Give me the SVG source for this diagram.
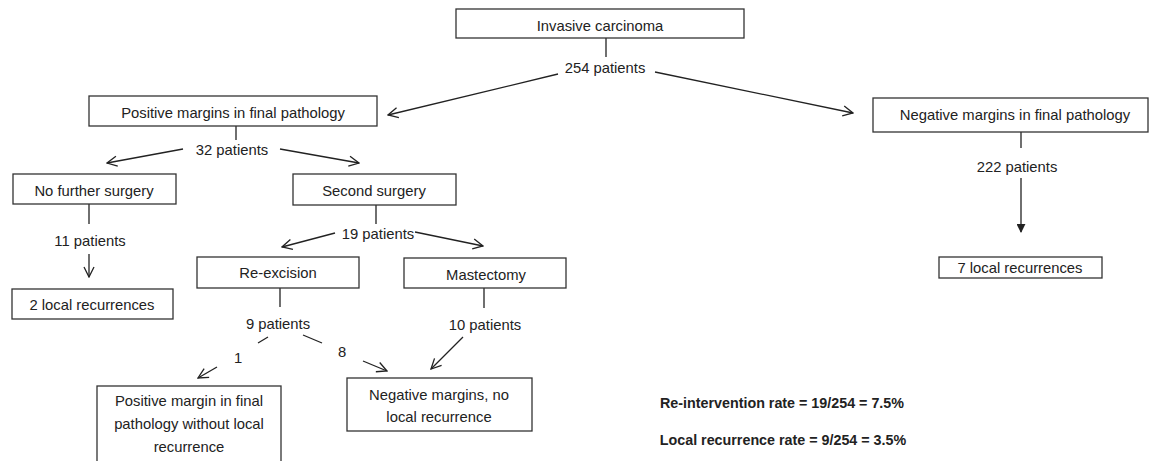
<svg xmlns="http://www.w3.org/2000/svg" width="1155" height="461" viewBox="0 0 1155 461">
<style>
.box{fill:#fff;stroke:#333;stroke-width:1.3}
.t{font-family:"Liberation Sans",Arial,sans-serif;font-size:14.8px;fill:#222;text-anchor:middle}
.b{font-family:"Liberation Sans",Arial,sans-serif;font-size:14.3px;font-weight:bold;fill:#222;text-anchor:middle}
.ln{stroke:#222;stroke-width:1.3;fill:none}
.ar{stroke:#222;stroke-width:1.3;fill:none;marker-end:url(#open)}
</style>
<defs>
<marker id="open" viewBox="0 0 12 12" refX="11" refY="6" markerWidth="12" markerHeight="12" markerUnits="userSpaceOnUse" orient="auto">
<path d="M1,1 L11,6 L1,11" fill="none" stroke="#222" stroke-width="1.3"/>
</marker>
<marker id="fill" viewBox="0 0 10 10" refX="9" refY="5" markerWidth="9" markerHeight="9" markerUnits="userSpaceOnUse" orient="auto">
<path d="M0,0 L10,5 L0,10 Z" fill="#222"/>
</marker>
</defs>
<g id="connectors">
<line class="ln" x1="606" y1="38" x2="606" y2="57"/>
<line class="ar" x1="558" y1="74" x2="388" y2="115"/>
<line class="ar" x1="655" y1="72" x2="853" y2="113"/>
<line class="ln" x1="1021" y1="132" x2="1021" y2="148"/>
<line class="ln" x1="1021" y1="178" x2="1021" y2="232" marker-end="url(#fill)"/>
<line class="ln" x1="236" y1="126" x2="236" y2="140"/>
<line class="ar" x1="183" y1="149" x2="107" y2="163"/>
<line class="ar" x1="280" y1="149" x2="359" y2="163"/>
<line class="ln" x1="89" y1="204" x2="89" y2="224"/>
<line class="ar" x1="89" y1="254" x2="89" y2="277"/>
<line class="ln" x1="376" y1="205" x2="376" y2="224"/>
<line class="ar" x1="335" y1="233" x2="282" y2="247"/>
<line class="ar" x1="415" y1="232" x2="483" y2="246"/>
<line class="ln" x1="280" y1="288" x2="280" y2="307"/>
<line class="ln" x1="484" y1="288" x2="484" y2="308"/>
<line class="ln" x1="268" y1="337" x2="258" y2="343"/>
<line class="ar" x1="217" y1="367" x2="198" y2="378"/>
<line class="ln" x1="303" y1="335" x2="322" y2="343"/>
<line class="ar" x1="363" y1="361" x2="387" y2="371"/>
<line class="ar" x1="463" y1="337" x2="431" y2="369"/>
</g>
<g id="invasive">
<rect class="box" x="456" y="9" width="288" height="29"/>
<text class="t" x="600" y="31">Invasive carcinoma</text>
</g>
<g id="label254"><text class="t" x="605" y="73">254 patients</text></g>
<g id="positive">
<rect class="box" x="89" y="96" width="288" height="30"/>
<text class="t" x="233" y="118">Positive margins in final pathology</text>
</g>
<g id="label32"><text class="t" x="232" y="155">32 patients</text></g>
<g id="negative">
<rect class="box" x="873" y="98" width="275" height="34"/>
<text class="t" x="1015" y="120">Negative margins in final pathology</text>
</g>
<g id="label222"><text class="t" x="1017" y="172">222 patients</text></g>
<g id="rec7">
<rect class="box" x="939" y="257" width="163" height="21"/>
<text class="t" x="1020" y="273">7 local recurrences</text>
</g>
<g id="nofurther">
<rect class="box" x="13" y="174" width="163" height="30"/>
<text class="t" x="94" y="196">No further surgery</text>
</g>
<g id="label11"><text class="t" x="90" y="246">11 patients</text></g>
<g id="rec2">
<rect class="box" x="12" y="289" width="161" height="30"/>
<text class="t" x="92" y="310">2 local recurrences</text>
</g>
<g id="second">
<rect class="box" x="293" y="174" width="163" height="31"/>
<text class="t" x="374" y="196">Second surgery</text>
</g>
<g id="label19"><text class="t" x="378" y="239">19 patients</text></g>
<g id="reexcision">
<rect class="box" x="197" y="257" width="162" height="31"/>
<text class="t" x="278" y="278">Re-excision</text>
</g>
<g id="label9"><text class="t" x="278" y="329">9 patients</text></g>
<g id="mastectomy">
<rect class="box" x="404" y="258" width="162" height="30"/>
<text class="t" x="486" y="280">Mastectomy</text>
</g>
<g id="label10"><text class="t" x="485" y="330">10 patients</text></g>
<g id="label1"><text class="t" x="238" y="363">1</text></g>
<g id="label8"><text class="t" x="342" y="357">8</text></g>
<g id="negnorec">
<rect class="box" x="347" y="378" width="185" height="53"/>
<text class="t" x="439" y="400">Negative margins, no</text>
<text class="t" x="439" y="422">local recurrence</text>
</g>
<g id="posnorec">
<rect class="box" x="97" y="386" width="184" height="90"/>
<text class="t" x="189" y="406">Positive margin in final</text>
<text class="t" x="189" y="429">pathology without local</text>
<text class="t" x="189" y="452">recurrence</text>
</g>
<g id="rates">
<text class="b" x="782" y="408">Re-intervention rate = 19/254 = 7.5%</text>
<text class="b" x="783" y="445">Local recurrence rate = 9/254 = 3.5%</text>
</g>
</svg>
